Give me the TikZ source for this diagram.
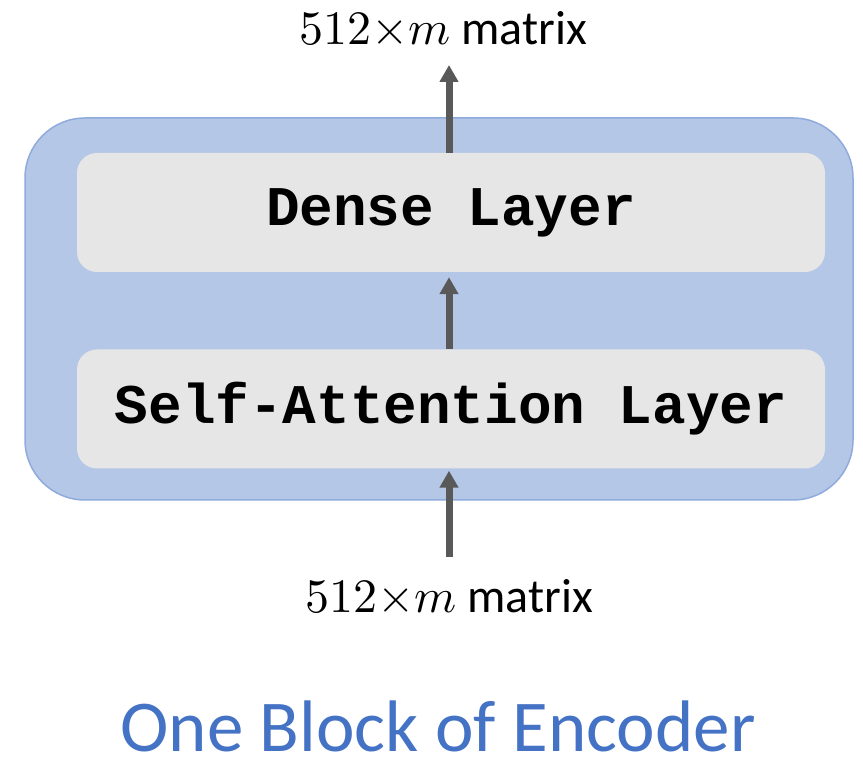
\documentclass[tikz,border=0pt]{standalone}
\usepackage{fontspec}
\usepackage{unicode-math}
\setmainfont{Carlito}
\setmonofont{Liberation Mono}
\setmathfont{Latin Modern Math}
\usetikzlibrary{arrows.meta}
\definecolor{blockblue}{HTML}{B4C7E7}
\definecolor{blockedge}{HTML}{8FAADC}
\definecolor{layergray}{HTML}{E6E6E6}
\definecolor{arrowgray}{HTML}{595959}
\definecolor{titleblue}{HTML}{4472C4}
\begin{document}
\begin{tikzpicture}[x=1pt, y=1pt,
    layer/.style={fill=layergray, rounded corners=20pt, minimum width=748pt, minimum height=119pt, inner sep=0pt,
        font=\fontsize{56}{56}\selectfont\ttfamily\bfseries},
    flow/.style={draw=arrowgray, line width=7pt, -{Triangle[length=17pt, width=18pt]}},
    lbl/.style={anchor=base, inner sep=0pt, font=\fontsize{48}{48}\selectfont}]
        \useasboundingbox (0, 0) rectangle (863, 779);
        \node[draw=blockedge, fill=blockblue, line width=1.5pt, rounded corners=60pt,
            minimum width=828pt, minimum height=382pt] (block) at (439, 470){};
            \node[layer] (dense) at (451, 566.5){Dense Layer};
            \node[layer] (attn) at (451, 370){Self-Attention Layer};
        \node[lbl] (outlbl) at (443, 734){$512{\times}m$ matrix};
        \node[lbl] (inlbl) at (449, 166){$512{\times}m$ matrix};
        \node[lbl, font=\fontsize{73}{73}\selectfont, text=titleblue] (title) at (438, 27){One Block of Encoder};
        \draw[flow] ([xshift=-2pt]attn.north) to ([xshift=-2pt, yshift=-5pt]dense.south);
        \draw[flow] ([xshift=-2pt]dense.north) to ([xshift=6pt, yshift=-20pt]outlbl.base);
        \draw[flow] ([yshift=56pt]inlbl.base) to ([xshift=-2pt, yshift=-2pt]attn.south);
\end{tikzpicture}
\end{document}
